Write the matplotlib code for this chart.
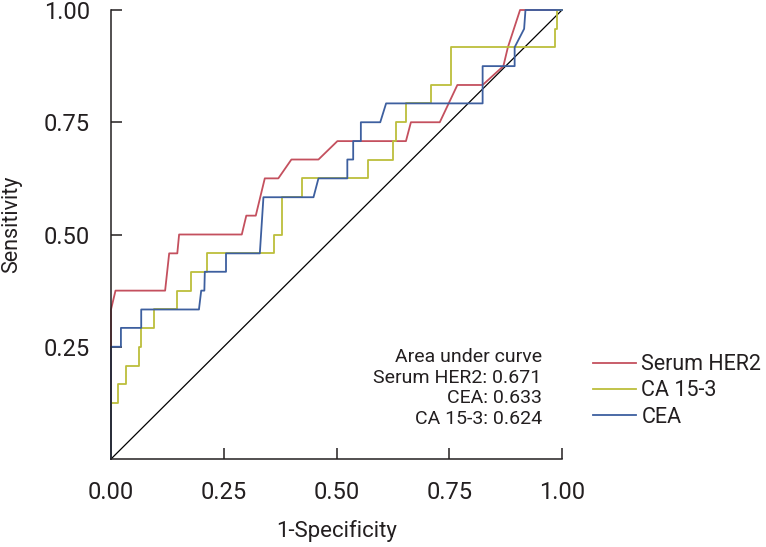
import matplotlib
matplotlib.use("Agg")
import matplotlib.pyplot as plt

# ROC curve vertices (1-specificity, sensitivity)
her2_fpr = [0.0, 0.0, 0.010, 0.120, 0.129, 0.147, 0.151, 0.290, 0.300, 0.321, 0.341, 0.371,
            0.400, 0.460, 0.502, 0.654, 0.665, 0.729, 0.768, 0.824, 0.870, 0.880, 0.907, 1.0]
her2_tpr = [0.0, 0.333, 0.375, 0.375, 0.458, 0.458, 0.500, 0.500, 0.542, 0.542, 0.625, 0.625,
            0.667, 0.667, 0.708, 0.708, 0.750, 0.750, 0.833, 0.833, 0.875, 0.917, 1.0, 1.0]

ca153_fpr = [0.0, 0.0, 0.015, 0.015, 0.033, 0.033, 0.062, 0.062, 0.067, 0.067, 0.096, 0.096,
             0.147, 0.147, 0.177, 0.177, 0.212, 0.212, 0.362, 0.362, 0.380, 0.380, 0.423, 0.423,
             0.570, 0.570, 0.626, 0.626, 0.633, 0.633, 0.654, 0.654, 0.710, 0.710, 0.754, 0.754,
             0.985, 0.985, 0.990, 0.990, 1.0]
ca153_tpr = [0.0, 0.125, 0.125, 0.167, 0.167, 0.208, 0.208, 0.250, 0.250, 0.292, 0.292, 0.333,
             0.333, 0.375, 0.375, 0.417, 0.417, 0.458, 0.458, 0.500, 0.500, 0.583, 0.583, 0.625,
             0.625, 0.667, 0.667, 0.708, 0.708, 0.750, 0.750, 0.792, 0.792, 0.833, 0.833, 0.917,
             0.917, 0.958, 0.958, 1.0, 1.0]

cea_fpr = [0.0, 0.0, 0.0, 0.022, 0.022, 0.067, 0.067, 0.195, 0.200, 0.207, 0.208, 0.255, 0.255,
           0.330, 0.338, 0.449, 0.460, 0.524, 0.524, 0.537, 0.537, 0.554, 0.554, 0.597, 0.610,
           0.824, 0.824, 0.895, 0.895, 0.916, 0.919, 1.0]
cea_tpr = [0.0, 0.208, 0.250, 0.250, 0.292, 0.292, 0.333, 0.333, 0.375, 0.375, 0.417, 0.417, 0.458,
           0.458, 0.583, 0.583, 0.625, 0.625, 0.667, 0.667, 0.708, 0.708, 0.750, 0.750, 0.792,
           0.792, 0.875, 0.875, 0.917, 0.958, 1.0, 1.0]

auc_lines = ["Area under curve", "Serum HER2: 0.671", "CEA: 0.633", "CA 15-3: 0.624"]
x_ticks = [0.0, 0.25, 0.50, 0.75, 1.00]
x_labels = ["0.00", "0.25", "0.50", "0.75", "1.00"]
y_ticks = [0.25, 0.50, 0.75, 1.00]
y_labels = ["0.25", "0.50", "0.75", "1.00"]

RED = "#c4505e"
YELLOW = "#bcbe3c"
BLUE = "#3d5f9f"
INK = "#231f20"

plt.rcParams["font.family"] = ["Roboto", "DejaVu Sans"]

fig = plt.figure(figsize=(7.66, 5.47), dpi=100)
ax = fig.add_axes([111 / 766, 1 - 459 / 547, 451 / 766, 449 / 547])

ax.plot([0, 1], [0, 1], color="black", lw=0.9, clip_on=False, zorder=2)
ax.plot(her2_fpr, her2_tpr, color=RED, lw=1.3, label="Serum HER2", clip_on=False, zorder=3)
ax.plot(ca153_fpr, ca153_tpr, color=YELLOW, lw=1.3, label="CA 15-3", clip_on=False, zorder=3)
ax.plot(cea_fpr, cea_tpr, color=BLUE, lw=1.3, label="CEA", clip_on=False, zorder=3)

ax.set_xlim(0, 1)
ax.set_ylim(0, 1)
ax.set_xticks(x_ticks)
ax.set_xticklabels(x_labels)
ax.set_yticks(y_ticks)
ax.set_yticklabels(y_labels)
for side in ["top", "right"]:
    ax.spines[side].set_visible(False)
for side in ["left", "bottom"]:
    ax.spines[side].set_linewidth(1.1)
    ax.spines[side].set_color(INK)
    ax.spines[side].set_zorder(4)
ax.tick_params(direction="in", length=8, width=1.1, color=INK,
               labelsize=17, labelcolor=INK)
ax.tick_params(axis="x", pad=16)
ax.tick_params(axis="y", pad=15)

fig.text(337 / 766, 1 - 531 / 547, "1-Specificity", ha="center", va="center",
         fontsize=16, color=INK)
fig.text(12 / 766, 1 - 224 / 547, "Sensitivity", ha="center", va="center", rotation=90,
         fontsize=15.5, color=INK)

ax.text(0.955, 0.158, "\n".join(auc_lines), ha="right", va="center", multialignment="right",
        linespacing=1.18, fontsize=14, color=INK, transform=ax.transAxes)

leg = fig.legend(loc="center left", bbox_to_anchor=(593 / 766, 1 - 391 / 547),
                 bbox_transform=fig.transFigure, frameon=False, borderpad=0,
                 borderaxespad=0, handlelength=2.0, handletextpad=0.25,
                 labelspacing=0.25, fontsize=15.5)
for t in leg.get_texts():
    t.set_color(INK)

fig.savefig("out.png", dpi=100)
